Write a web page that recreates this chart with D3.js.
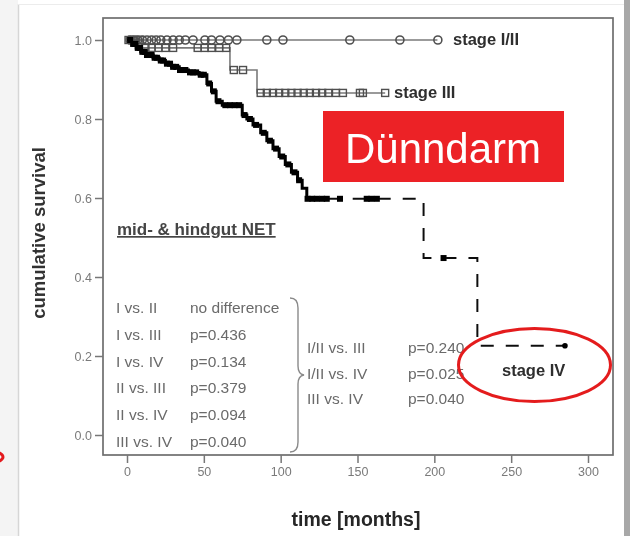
<!DOCTYPE html>
<html><head><meta charset="utf-8">
<script src="https://cdn.jsdelivr.net/npm/d3@7"></script>
<style>
html,body{margin:0;padding:0;background:#fff;}
svg{display:block;font-family:"Liberation Sans",Arial,Helvetica,sans-serif;}
</style></head><body>
<svg id="chart" width="630" height="536"></svg>
<script>
// Axis ticks
const xTicks = [0, 50, 100, 150, 200, 250, 300];
const yTicks = [0, 0.2, 0.4, 0.6, 0.8, 1.0];

// Kaplan-Meier curves: time of each step (months) and survival after it
const stage12Times = [0];
const stage12Surv = [1.0];
const stage12End = 202;
const stage12Censor = [2, 4.5, 7, 10, 13, 16, 19, 22, 26, 30, 34, 38, 43, 50.7, 55, 60.5, 66, 71.5, 91, 101.5, 145, 177.6, 202.3];

const stage3Times = [0, 10, 67, 84.6];
const stage3Surv = [1.0, 0.98, 0.924, 0.866];
const stage3End = 168;
const stage3Censor = [1, 3.5, 6, 8.5, 12, 16, 20.5, 25, 30, 46, 50.5, 55, 60, 64.5, 69.5, 75.5,
  87, 91, 95, 99, 103, 107, 111, 115, 119, 123, 127, 131, 136, 140.5, 151.6, 153.5, 168];

const stage4Times = [0, 3, 6, 9, 13, 17, 21, 25, 29, 34, 40, 47, 52, 55, 58, 62, 75, 78, 82, 87, 91, 95, 99, 103, 107, 111, 114, 117, 193, 228];
const stage4Surv = [1.0, 0.99, 0.98, 0.97, 0.962, 0.955, 0.948, 0.94, 0.932, 0.924, 0.918, 0.912, 0.89, 0.87, 0.845, 0.835, 0.81, 0.80, 0.785, 0.765, 0.745, 0.725, 0.705, 0.685, 0.665, 0.645, 0.625, 0.598, 0.448, 0.226];
const stage4End = 285;
const stage4Censor = [2, 4, 5.5, 7, 8.5, 10, 11.5, 13, 14.5, 16, 18, 19.5, 22, 23.5, 26, 28, 30, 32, 34.5, 36.5, 38, 41, 43, 45, 48, 50, 53.5, 56.5, 59.5, 64, 67, 70, 73, 76.5, 80, 84, 89, 93, 97, 101, 105, 109, 112,
  117.5, 120.5, 123.5, 127, 130, 138.6, 156, 159, 162.6, 206];
const stage4SolidUntil = 128;

// Pairwise log-rank comparisons
const pairLabels = ["I vs. II", "I vs. III", "I vs. IV", "II vs. III", "II vs. IV", "III vs. IV"];
const pairP = ["no difference", "p=0.436", "p=0.134", "p=0.379", "p=0.094", "p=0.040"];
const groupLabels = ["I/II vs. III", "I/II vs. IV", "III vs. IV"];
const groupP = ["p=0.240", "p=0.025", "p=0.040"];

const svg = d3.select("#chart");

// page frame
svg.append("rect").attr("x", 0).attr("y", 0).attr("width", 18).attr("height", 536).attr("fill", "#f4f4f4");
svg.append("line").attr("x1", 18.5).attr("x2", 18.5).attr("y1", 4).attr("y2", 536).attr("stroke", "#d6d6d6").attr("stroke-width", 1.5);
svg.append("line").attr("x1", 18).attr("x2", 624).attr("y1", 4.5).attr("y2", 4.5).attr("stroke", "#ececec").attr("stroke-width", 1);
svg.append("rect").attr("x", 624).attr("y", 0).attr("width", 6).attr("height", 536).attr("fill", "#a8a8a8");
svg.append("ellipse").attr("cx", -40).attr("cy", 457).attr("rx", 43).attr("ry", 10)
  .attr("fill", "none").attr("stroke", "#e41b1f").attr("stroke-width", 3);

const defs = svg.append("defs");
defs.append("filter").attr("id", "soft").attr("x", "-5%").attr("y", "-5%").attr("width", "110%").attr("height", "110%")
  .append("feGaussianBlur").attr("stdDeviation", 0.75);
defs.append("filter").attr("id", "softer")
  .append("feGaussianBlur").attr("stdDeviation", 0.35);

const x = d3.scaleLinear().domain([0, 300]).range([127, 588]);
const y = d3.scaleLinear().domain([0, 1]).range([435, 40]);
const box = {left: 103, right: 613, top: 18, bottom: 455};

const g = svg.append("g").attr("filter", "url(#soft)");

// plot frame
g.append("rect").attr("x", box.left).attr("y", box.top)
  .attr("width", box.right - box.left).attr("height", box.bottom - box.top)
  .attr("fill", "#fff").attr("stroke", "#6e6e6e").attr("stroke-width", 1.7);

// axes
const yAxis = d3.axisLeft(y).tickValues(yTicks).tickFormat(d3.format(".1f")).tickSize(8).tickPadding(3);
const ya = g.append("g").attr("transform", `translate(${box.left},0)`).call(yAxis);
const xAxis = d3.axisBottom(x).tickValues(xTicks).tickFormat(d3.format("d")).tickSize(8).tickPadding(4);
const xa = g.append("g").attr("transform", `translate(0,${box.bottom})`).call(xAxis);
[ya, xa].forEach(a => {
  a.select(".domain").remove();
  a.selectAll(".tick line").attr("stroke", "#777").attr("stroke-width", 1.5);
  a.selectAll(".tick text").attr("fill", "#7a7a7a").attr("font-size", 12.5)
    .attr("font-family", "'Liberation Sans', Arial, sans-serif");
});

g.append("text").attr("x", 356).attr("y", 526).attr("text-anchor", "middle")
  .attr("font-size", 19.5).attr("font-weight", "bold").attr("fill", "#262626").text("time [months]");
g.append("text").attr("transform", "translate(45,233) rotate(-90)").attr("text-anchor", "middle")
  .attr("font-size", 18.5).attr("font-weight", "bold").attr("fill", "#333").text("cumulative survival");

// survival curves
function kmPoints(times, surv, end) {
  const pts = times.map((t, i) => [t, surv[i]]);
  pts.push([end, surv[surv.length - 1]]);
  return pts;
}
function survAt(times, surv, t) {
  let s = surv[0];
  times.forEach((tt, i) => { if (tt <= t) s = surv[i]; });
  return s;
}
const step = d3.line().x(d => x(d[0])).y(d => y(d[1])).curve(d3.curveStepAfter);

const p12 = kmPoints(stage12Times, stage12Surv, stage12End);
g.append("path").attr("d", step(p12)).attr("fill", "none").attr("stroke", "#7a7a7a").attr("stroke-width", 1.7);

const p3 = kmPoints(stage3Times, stage3Surv, stage3End);
g.append("path").attr("d", step(p3)).attr("fill", "none").attr("stroke", "#7a7a7a").attr("stroke-width", 1.6);

const p4 = kmPoints(stage4Times, stage4Surv, stage4End);
const s4cut = survAt(stage4Times, stage4Surv, stage4SolidUntil);
const p4a = p4.filter(d => d[0] < stage4SolidUntil).concat([[stage4SolidUntil, s4cut]]);
const p4b = [[stage4SolidUntil, s4cut]].concat(p4.filter(d => d[0] > stage4SolidUntil));
g.append("path").attr("d", step(p4a)).attr("fill", "none").attr("stroke", "#000").attr("stroke-width", 3);
g.append("path").attr("d", step(p4b)).attr("fill", "none").attr("stroke", "#111").attr("stroke-width", 2)
  .attr("stroke-dasharray", "13,12").attr("stroke-dashoffset", -4);

// censoring marks
g.selectAll(".c12").data(stage12Censor).join("circle")
  .attr("cx", d => x(d)).attr("cy", d => y(survAt(stage12Times, stage12Surv, d))).attr("r", 4)
  .attr("fill", "none").attr("stroke", "#505050").attr("stroke-width", 1.6);
g.selectAll(".c3").data(stage3Censor).join("rect")
  .attr("x", d => x(d) - 3.5).attr("y", d => y(survAt(stage3Times, stage3Surv, d)) - 3.5)
  .attr("width", 7).attr("height", 7)
  .attr("fill", "none").attr("stroke", "#505050").attr("stroke-width", 1.4);
g.selectAll(".c4").data(stage4Censor).join("rect")
  .attr("x", d => x(d) - 3).attr("y", d => y(survAt(stage4Times, stage4Surv, d)) - 3)
  .attr("width", 6).attr("height", 6).attr("fill", "#000");
g.append("circle").attr("cx", x(stage4End)).attr("cy", y(stage4Surv[stage4Surv.length - 1])).attr("r", 2.8).attr("fill", "#000");

// curve labels
g.append("text").attr("x", 453).attr("y", 45).attr("font-size", 16.5).attr("font-weight", "bold").attr("fill", "#2e2e2e").text("stage I/II");
g.append("text").attr("x", 394).attr("y", 98).attr("font-size", 16.5).attr("font-weight", "bold").attr("fill", "#2e2e2e").text("stage III");
g.append("text").attr("x", 502).attr("y", 376).attr("font-size", 16.5).attr("font-weight", "bold").attr("fill", "#2e2e2e").text("stage IV");

// cohort caption
g.append("text").attr("x", 117).attr("y", 235).attr("font-size", 17).attr("font-weight", "bold")
  .attr("fill", "#444").attr("text-decoration", "underline").text("mid- & hindgut NET");

// comparison table
const rowY = [308, 335, 362, 388, 415, 442];
const leg = g.append("g").attr("fill", "#6a6a6a").attr("font-size", 15.5);
leg.selectAll(".pl").data(pairLabels).join("text").attr("x", 116).attr("y", (d, i) => rowY[i] + 5).text(d => d);
leg.selectAll(".pp").data(pairP).join("text").attr("x", 190).attr("y", (d, i) => rowY[i] + 5).text(d => d);
const rowY2 = [348, 374, 399];
leg.selectAll(".gl").data(groupLabels).join("text").attr("x", 307).attr("y", (d, i) => rowY2[i] + 5).text(d => d);
leg.selectAll(".gp").data(groupP).join("text").attr("x", 408).attr("y", (d, i) => rowY2[i] + 5).text(d => d);
g.append("path")
  .attr("d", "M290,298 Q298,298 298,308 L298,366 Q298,374 304,375 Q298,376 298,384 L298,442 Q298,452 290,452")
  .attr("fill", "none").attr("stroke", "#8a8a8a").attr("stroke-width", 1.4);

// highlight annotations
const ann = svg.append("g").attr("filter", "url(#softer)");
ann.append("rect").attr("x", 323).attr("y", 111).attr("width", 241).attr("height", 71).attr("fill", "#ec2227");
ann.append("text").attr("x", 443).attr("y", 163).attr("text-anchor", "middle").attr("font-size", 42)
  .attr("fill", "#fff").text("Dünndarm");
ann.append("ellipse").attr("cx", 534.5).attr("cy", 365).attr("rx", 76).attr("ry", 36.5)
  .attr("fill", "none").attr("stroke", "#e41b1f").attr("stroke-width", 3);
</script></body></html>
